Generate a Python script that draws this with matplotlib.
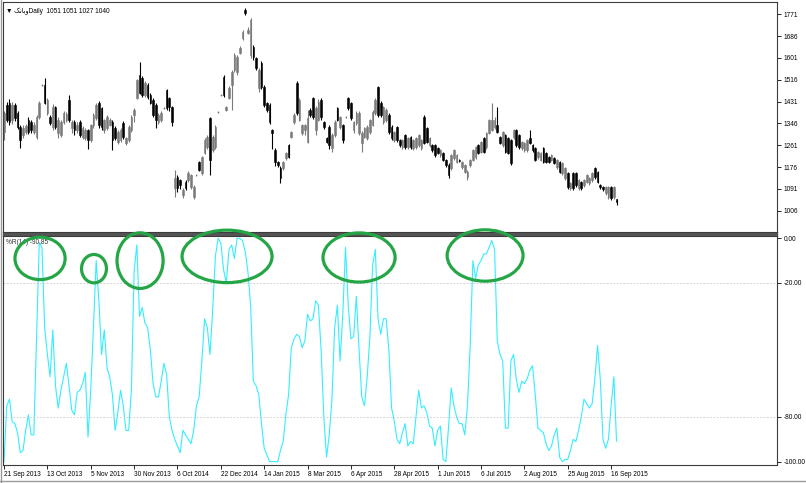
import matplotlib
matplotlib.use('Agg')
import matplotlib.pyplot as plt
from matplotlib.patches import Ellipse, Rectangle
from matplotlib.lines import Line2D
import numpy as np

# daily candles
opens = [1313, 1418, 1426, 1360, 1418, 1387, 1332, 1301, 1313, 1360, 1352, 1313, 1293, 1371, 1496, 1496, 1387, 1371, 1332, 1410,
         1309, 1301, 1352, 1360, 1438, 1328, 1352, 1320, 1352, 1293, 1289, 1320, 1282, 1340, 1367, 1426, 1406, 1320, 1328, 1340,
         1352, 1328, 1274, 1282, 1348, 1270, 1282, 1320, 1379, 1445, 1535, 1523, 1457, 1496, 1457, 1438, 1418, 1352, 1360, 1406,
         1476, 1445, 1410,
         1094, 1137, 1125, 1067, 1118, 1125, 1098, 1059, 1145, 1196, 1153, 1231, 1254, 1367, 1242, 1254, 1391, 1457, 1527, 1398,
         1445, 1496, 1554, 1547, 1621, 1679, 1788, 1699, 1613, 1644, 1601, 1484, 1582, 1488, 1426, 1418, 1320, 1242, 1196, 1172,
         1172, 1211, 1262, 1293, 1352, 1504,
         1360, 1309, 1320, 1274, 1398, 1445, 1320, 1360, 1438, 1352, 1289, 1332, 1250, 1301, 1406, 1332, 1340, 1371, 1445, 1426,
         1320, 1348, 1309, 1270, 1293, 1289, 1313, 1340, 1387, 1488, 1426, 1352, 1360, 1379, 1332, 1282, 1332, 1282, 1254, 1301,
         1254, 1293, 1250, 1254, 1262, 1250, 1371, 1328, 1262, 1262, 1262, 1250, 1223, 1231, 1204, 1184, 1172, 1211, 1196, 1204,
         1176, 1157, 1137, 1184, 1204, 1215, 1262, 1235, 1289, 1254, 1309, 1320, 1332, 1340, 1293, 1262, 1301, 1289, 1282, 1293,
         1320, 1301, 1250, 1242, 1242, 1289, 1262, 1250, 1215, 1204, 1250, 1231, 1215, 1204, 1211, 1176, 1196, 1153, 1133, 1153,
         1094, 1153, 1153, 1094, 1118, 1106, 1118, 1114, 1125, 1172, 1157, 1106, 1098, 1075, 1059, 1098, 1059, 1051]
closes = [1387, 1360, 1352, 1418, 1367, 1332, 1282, 1328, 1336, 1313, 1320, 1340, 1371, 1426, 1496, 1426, 1438, 1348, 1410, 1332,
          1360, 1352, 1387, 1383, 1360, 1352, 1320, 1340, 1301, 1328, 1320, 1282, 1340, 1379, 1418, 1340, 1332, 1360, 1371, 1360,
          1282, 1289, 1313, 1320, 1293, 1289, 1332, 1371, 1398, 1515, 1465, 1457, 1504, 1449, 1426, 1379, 1360, 1379, 1387, 1406,
          1406, 1410, 1352,
          1133, 1094, 1106, 1087, 1094, 1153, 1145, 1098, 1145, 1165, 1215, 1282, 1293, 1204, 1293, 1332, 1391, 1457, 1457, 1410,
          1484, 1547, 1613, 1605, 1640, 1703, 1777, 1711, 1749, 1605, 1562, 1554, 1488, 1418, 1398, 1352, 1309, 1196, 1184, 1133,
          1196, 1231, 1215, 1313, 1379, 1387,
          1438, 1340, 1340, 1367, 1379, 1371, 1406, 1430, 1371, 1332, 1274, 1262, 1301, 1352, 1360, 1371, 1282, 1371, 1406, 1367,
          1352, 1387, 1387, 1309, 1328, 1332, 1360, 1391, 1438, 1379, 1379, 1410, 1398, 1313, 1289, 1313, 1282, 1262, 1282, 1254,
          1289, 1254, 1282, 1289, 1301, 1282, 1270, 1274, 1289, 1242, 1223, 1231, 1242, 1204, 1184, 1145, 1223, 1242, 1223, 1200,
          1196, 1184, 1157, 1204, 1242, 1254, 1231, 1274, 1235, 1309, 1360, 1360, 1360, 1313, 1270, 1313, 1235, 1231, 1192, 1320,
          1262, 1254, 1274, 1270, 1282, 1270, 1242, 1204, 1235, 1231, 1196, 1196, 1196, 1223, 1192, 1204, 1157, 1192, 1172, 1098,
          1114, 1094, 1106, 1125, 1094, 1125, 1145, 1133, 1153, 1137, 1118, 1098, 1090, 1098, 1098, 1055, 1098, 1040]
highs = [1395, 1430, 1440, 1430, 1425, 1395, 1340, 1340, 1345, 1370, 1360, 1350, 1380, 1435, 1500, 1523, 1445, 1380, 1420, 1415,
         1370, 1360, 1395, 1390, 1455, 1360, 1360, 1350, 1360, 1335, 1330, 1325, 1345, 1385, 1425, 1435, 1410, 1365, 1380, 1368,
         1360, 1335, 1320, 1328, 1355, 1295, 1340, 1378, 1405, 1520, 1585, 1530, 1510, 1505, 1465, 1445, 1425, 1385, 1393, 1410,
         1480, 1450, 1415,
         1165, 1145, 1130, 1095, 1125, 1160, 1150, 1105, 1150, 1200, 1220, 1290, 1300, 1370, 1300, 1340, 1395, 1462, 1535, 1415,
         1490, 1555, 1620, 1612, 1648, 1710, 1795, 1720, 1755, 1650, 1605, 1560, 1590, 1495, 1430, 1425, 1325, 1250, 1200, 1180,
         1200, 1235, 1265, 1318, 1385, 1510,
         1445, 1345, 1345, 1400, 1405, 1450, 1415, 1440, 1445, 1355, 1295, 1340, 1310, 1360, 1410, 1375, 1345, 1375, 1450, 1430,
         1357, 1395, 1393, 1315, 1333, 1338, 1365, 1398, 1445, 1492, 1432, 1415, 1405, 1385, 1338, 1318, 1337, 1287, 1287, 1306,
         1295, 1298, 1287, 1295, 1306, 1287, 1377, 1333, 1294, 1267, 1267, 1255, 1247, 1236, 1209, 1190, 1228, 1247, 1228, 1209,
         1201, 1189, 1165, 1209, 1247, 1259, 1267, 1279, 1294, 1314, 1365, 1425, 1370, 1410, 1298, 1318, 1306, 1294, 1287, 1325,
         1325, 1306, 1279, 1275, 1287, 1320, 1267, 1255, 1240, 1236, 1255, 1236, 1220, 1228, 1216, 1209, 1201, 1197, 1177, 1158,
         1119, 1158, 1158, 1130, 1123, 1130, 1150, 1138, 1158, 1177, 1162, 1111, 1103, 1103, 1103, 1103, 1103, 1051]
lows = [1282, 1350, 1340, 1345, 1355, 1325, 1250, 1290, 1305, 1305, 1310, 1305, 1285, 1365, 1490, 1420, 1380, 1340, 1320, 1325,
        1290, 1295, 1345, 1350, 1350, 1310, 1300, 1310, 1295, 1285, 1280, 1248, 1275, 1330, 1360, 1330, 1320, 1310, 1320, 1335,
        1242, 1280, 1265, 1275, 1285, 1262, 1275, 1312, 1352, 1440, 1460, 1450, 1450, 1440, 1420, 1370, 1328, 1345, 1352, 1402,
        1400, 1395, 1335,
        1060, 1080, 1090, 1055, 1085, 1118, 1090, 1052, 1140, 1160, 1145, 1225, 1245, 1145, 1235, 1245, 1387, 1453, 1450, 1395,
        1440, 1400, 1545, 1535, 1615, 1672, 1770, 1695, 1600, 1595, 1555, 1470, 1480, 1410, 1390, 1345, 1245, 1180, 1175, 1115,
        1165, 1205, 1210, 1288, 1345, 1380,
        1355, 1300, 1300, 1270, 1370, 1365, 1300, 1355, 1360, 1325, 1268, 1245, 1235, 1295, 1355, 1325, 1270, 1367, 1400, 1360,
        1310, 1340, 1300, 1235, 1288, 1280, 1305, 1335, 1380, 1372, 1372, 1345, 1350, 1305, 1280, 1275, 1275, 1256, 1248, 1248,
        1248, 1248, 1244, 1248, 1256, 1244, 1265, 1268, 1256, 1236, 1217, 1225, 1217, 1198, 1178, 1135, 1166, 1205, 1190, 1195,
        1170, 1151, 1127, 1178, 1198, 1209, 1225, 1229, 1229, 1248, 1303, 1315, 1326, 1307, 1264, 1256, 1229, 1225, 1185, 1287,
        1256, 1248, 1244, 1236, 1236, 1264, 1236, 1198, 1209, 1198, 1190, 1190, 1190, 1198, 1186, 1170, 1151, 1147, 1127, 1092,
        1088, 1088, 1100, 1088, 1088, 1100, 1112, 1108, 1119, 1131, 1112, 1092, 1084, 1069, 1053, 1049, 1053, 1027]

# Williams %R(14)
wpr = [-100, -75, -72, -82, -83, -87, -96, -95, -86, -79, -88, -88, -45, -2, -4, -40, -52, -62, -41, -66,
       -76, -68, -62, -56, -66, -77, -79, -69, -68, -65, -60, -89, -68, -40, -10, -28, -52, -41, -58, -62,
       -70, -86, -78, -68, -75, -86, -86, -68, -15, -3, -35, -31, -38, -40, -50, -65, -71, -71, -64, -56,
       -61, -80, -86, -90, -93, -96, -86, -88, -90, -92, -86, -75, -71,
       -55, -36, -40, -52, -32, -8, 0, -2, -14, -20, -5, -3, -9, 0, 0, -1, -6, -15, -30, -64,
       -66, -70, -83, -94, -97, -100, -100, -100, -100, -95, -91, -79, -70, -49, -45, -43, -44, -49, -46, -34,
       -37, -36, -28, -30, -50, -80, -98, -88, -72, -40, -30, -55, -34, -4, -30, -45, -44, -26, -50, -71,
       -75, -62, -44, -12, -5, -36, -43, -36, -36, -50, -76, -82, -90,
       -92, -87, -83, -93, -91, -92, -80, -68, -76, -75, -78, -84, -85, -93, -86, -84, -99, -100, -85, -67,
       -75, -80, -83, -83, -88, -75, -48, -10, -18, -12, -10, -7, -7, -4, -1, -5, -46, -52, -55, -85,
       -85, -55, -52, -63, -69, -64, -65, -63, -59, -57, -70, -85, -86, -87, -92, -95, -93, -88, -85, -98,
       -100, -99, -99, -95, -90, -91, -86, -80, -72, -74, -76, -74, -63, -48, -63, -90, -94, -90, -75, -62, -90.85]

date_labels = ['21 Sep 2013', '13 Oct 2013', '5 Nov 2013', '30 Nov 2013', '6 Oct 2014', '22 Dec 2014', '14 Jan 2015',
               '8 Mar 2015', '6 Apr 2015', '28 Apr 2015', '1 Jun 2015', '6 Jul 2015', '2 Aug 2015', '25 Aug 2015',
               '16 Sep 2015']
price_ticks = [1006, 1091, 1176, 1261, 1346, 1431, 1516, 1601, 1686, 1771]
wpr_ticks = [0, -20, -80, -100]
wpr_levels = [-20, -80]

# green rings marking the overbought tops (bar, %R, width in bars, height in %R)
ring_x = [13.3, 33.2, 50.2, 82.3, 131, 177.5]
ring_y = [-9, -13.6, -10, -8.1, -8.6, -7.7]
ring_w = [18.5, 9.2, 17, 33.2, 26.6, 28]
ring_h = [19, 12.7, 24.9, 23.5, 22, 23]

symbol = '\ufb8f\ufee7\ufe8e\ufe91\ufeed'

W, H = 806, 483
plt.rcParams['font.family'] = ['Liberation Sans', 'DejaVu Sans']
fs = 4.7
fig = plt.figure(figsize=(W / 100, H / 100), dpi=100)
ax1 = fig.add_axes([3 / W, 1 - 232 / H, 774 / W, 230 / H])
ax2 = fig.add_axes([3 / W, 1 - 465 / H, 774 / W, 229 / H])

o = np.array(opens)
c = np.array(closes)
hi = np.array(highs)
lo = np.array(lows)
x = np.arange(len(c))
up = c >= o

ax1.vlines(x[up], lo[up], hi[up], color='#7a7a7a', lw=0.8)
ax1.vlines(x[~up], lo[~up], hi[~up], color='black', lw=0.8)
ax1.bar(x[up], (c - o)[up], bottom=o[up], width=0.62, color='#a8a8a8', edgecolor='#6a6a6a', lw=0.4)
ax1.bar(x[~up], (o - c)[~up], bottom=c[~up], width=0.62, color='black', edgecolor='black', lw=0.4)

ax1.set_xlim(-0.37, 285.2)
ax1.set_ylim(923, 1819)
ax1.set_xticks([])
ax1.yaxis.tick_right()
ax1.set_yticks(price_ticks)
ax1.set_yticklabels([str(p) for p in price_ticks])
ax1.tick_params(axis='y', direction='out', length=3, width=0.6, labelsize=fs, pad=1.5)
ax1.text(0.004, 0.975, '\u25bc ' + symbol + 'Daily  1051 1051 1027 1040', transform=ax1.transAxes,
         fontsize=fs, va='top', ha='left', family=['Liberation Sans', 'DejaVu Sans'])

ax2.plot(x, wpr, color='#33eeff', lw=0.8)
for lv in wpr_levels:
    ax2.axhline(lv, color='#c8c8c8', lw=0.6, ls=(0, (2, 2)))
for cx, cy, w, h in zip(ring_x, ring_y, ring_w, ring_h):
    ax2.add_patch(Ellipse((cx, cy), w, h, fill=False, ec='#25a646', lw=2.3, clip_on=False, zorder=5))

ax2.set_xlim(-0.37, 285.2)
ax2.set_ylim(-101.5, 1.03)
ax2.yaxis.tick_right()
ax2.set_yticks(wpr_ticks)
ax2.set_yticklabels(['%.2f' % t for t in wpr_ticks])
ax2.tick_params(axis='y', direction='out', length=3, width=0.6, labelsize=fs, pad=1.5)
ax2.set_xticks(np.arange(len(date_labels)) * 16)
ax2.set_xticklabels(date_labels, ha='left')
ax2.tick_params(axis='x', direction='out', length=3, width=0.6, labelsize=fs, pad=1.5)
ax2.text(0.004, 0.985, '%%R(14) %.2f' % wpr[-1], transform=ax2.transAxes, fontsize=fs, va='top', ha='left',
         color='#333333')

for ax in (ax1, ax2):
    for s in ax.spines.values():
        s.set_linewidth(0.8)
        s.set_color('#3c3c3c')

# pane separator and window edges
fig.add_artist(Rectangle((3 / W, 1 - 235.5 / H), 774 / W, 3.5 / H, transform=fig.transFigure,
                         color='#555555', zorder=-1))
fig.add_artist(Line2D([0.8 / W, 0.8 / W], [0, 1], transform=fig.transFigure, color='#9a9a9a', lw=1))
fig.add_artist(Line2D([0, 1], [1 - 480.5 / H, 1 - 480.5 / H], transform=fig.transFigure, color='#9a9a9a', lw=1))

fig.savefig('out.png', dpi=100, facecolor='white')
